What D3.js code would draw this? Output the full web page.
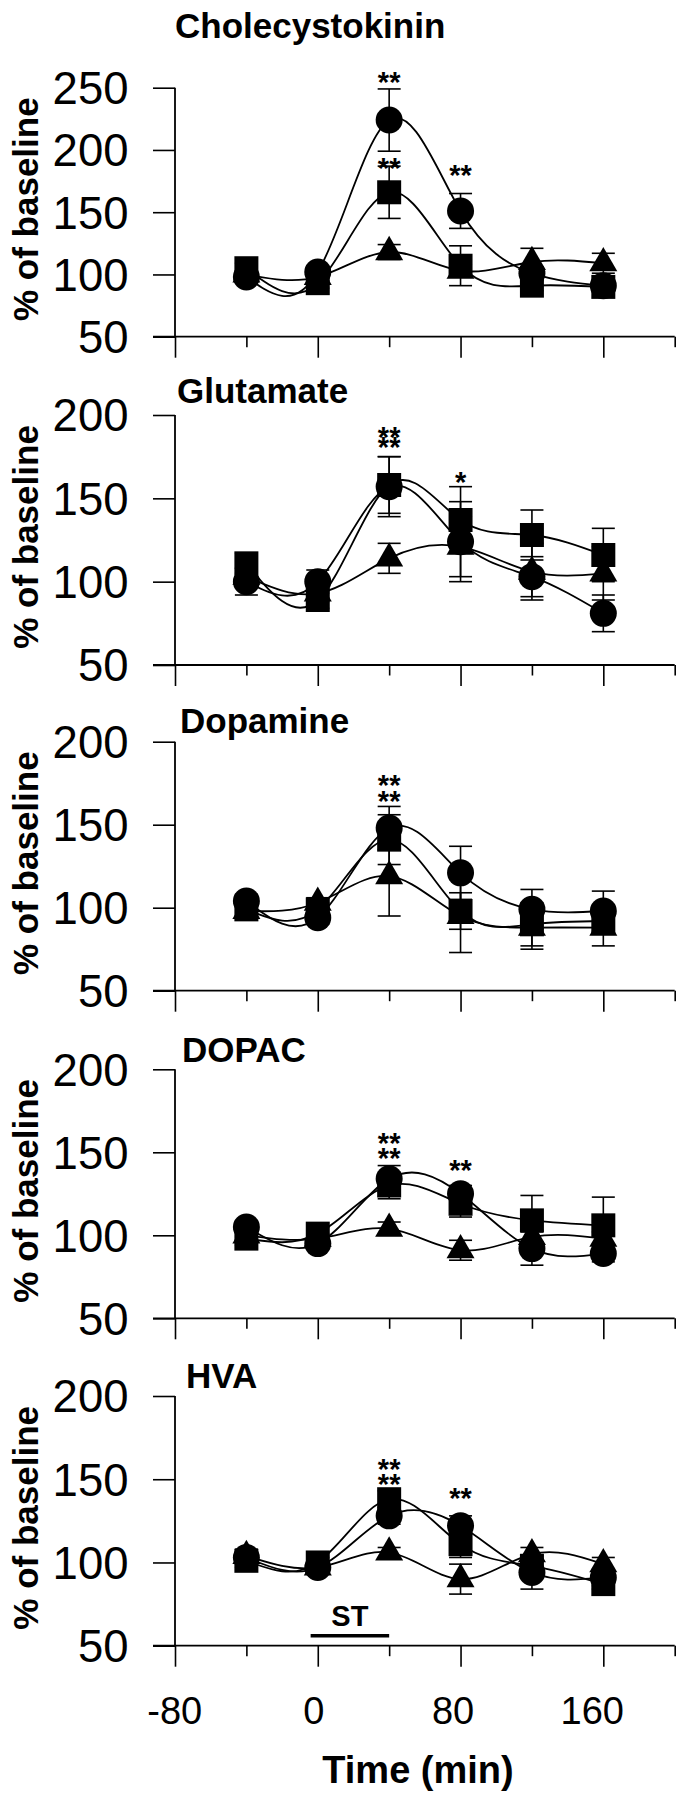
<!DOCTYPE html>
<html>
<head>
<meta charset="utf-8">
<script src="https://cdn.jsdelivr.net/npm/d3@7"></script>
<style>
  html, body { margin: 0; padding: 0; background: #fff; }
  svg { display: block; }
  text { font-family: "Liberation Sans", Arial, Helvetica, sans-serif; fill: #000; }
</style>
</head>
<body>
<svg id="chart" width="689" height="1800"></svg>
<script>
// ---------- data ----------
const times = [-40, 0, 40, 80, 120, 160];
const xTickValues = [-80, -40, 0, 40, 80, 120, 160, 200];
const xTickLabels = [-80, 0, 80, 160];
const panelTitles = ["Cholecystokinin", "Glutamate", "Dopamine", "DOPAC", "HVA"];
const yDomainMax = [250, 200, 200, 200, 200];
const yTicksCCK = [50, 100, 150, 200, 250];
const yTicksOther = [50, 100, 150, 200];
const yAxisTitle = "% of baseline";
const xAxisTitle = "Time (min)";
const stimLabel = "ST";
const stimRange = [-4, 40];

// Cholecystokinin
const cckCircle    = [98, 102, 224, 151, 101, 91];
const cckCircleSem = [3, 4, 25, 14, 5, 4];
const cckSquare    = [105, 93, 166, 107, 91, 90];
const cckSquareSem = [4, 4, 21, 16, 4, 4];
const cckTriangle    = [100, 98, 118, 103, 110, 109];
const cckTriangleSem = [3, 3, 6, 5, 11, 8];
// Glutamate
const gluCircle    = [100, 100, 157, 124, 103, 81];
const gluCircleSem = [8, 7, 18, 24, 12, 11];
const gluSquare    = [111, 89, 158, 137, 128, 116];
const gluSquareSem = [6, 5, 17, 20, 15, 16];
const gluTriangle    = [103, 93, 114, 121, 106, 105];
const gluTriangleSem = [5, 5, 9, 18, 17, 16];
// Dopamine
const daCircle    = [104, 94, 148, 121, 99, 98];
const daCircleSem = [4, 4, 13, 16, 12, 12];
const daSquare    = [99, 99, 141, 98, 90, 92];
const daSquareSem = [4, 4, 15, 11, 13, 8];
const daTriangle    = [98, 103, 119, 95, 88, 88];
const daTriangleSem = [3, 3, 24, 22, 13, 11];
// DOPAC
const dopacCircle    = [105, 95, 134, 125, 92, 89];
const dopacCircleSem = [3, 3, 8, 5, 10, 5];
const dopacSquare    = [98, 101, 130, 119, 109, 106];
const dopacSquareSem = [4, 4, 8, 8, 15, 17];
const dopacTriangle    = [100, 98, 104, 91, 99, 98];
const dopacTriangleSem = [3, 3, 4, 6, 4, 4];
// HVA
const hvaCircle    = [103, 97, 128, 122, 94, 91];
const hvaCircleSem = [3, 3, 5, 6, 10, 5];
const hvaSquare    = [101, 100, 138, 111, 98, 87];
const hvaSquareSem = [4, 3, 5, 8, 4, 3];
const hvaTriangle    = [104, 97, 106, 90, 105, 99];
const hvaTriangleSem = [4, 3, 3, 9, 4, 4];

// significance marks: [time, value at centre of first row, rows]
const cckStars   = [[40, 259.5, ["**"]], [40, 190, ["**"]], [80, 184.5, ["**"]]];
const gluStars   = [[40, 190.5, ["**", "**"]], [80, 163.5, ["*"]]];
const daStars    = [[40, 177.3, ["**", "**"]]];
const dopacStars = [[40, 159.4, ["**", "**"]], [80, 142.8, ["**"]]];
const hvaStars   = [[40, 159.9, ["**", "**"]], [80, 142.2, ["**"]]];
const starRowGap = [0, 10.5, 15.7, 15.6, 15];

// ---------- assemble panels ----------
const panels = [
  { series: [[cckTriangle, cckTriangleSem, "triangle"], [cckCircle, cckCircleSem, "circle"], [cckSquare, cckSquareSem, "square"]], stars: cckStars, ticks: yTicksCCK },
  { series: [[gluTriangle, gluTriangleSem, "triangle"], [gluCircle, gluCircleSem, "circle"], [gluSquare, gluSquareSem, "square"]], stars: gluStars, ticks: yTicksOther },
  { series: [[daTriangle, daTriangleSem, "triangle"], [daCircle, daCircleSem, "circle"], [daSquare, daSquareSem, "square"]], stars: daStars, ticks: yTicksOther },
  { series: [[dopacTriangle, dopacTriangleSem, "triangle"], [dopacCircle, dopacCircleSem, "circle"], [dopacSquare, dopacSquareSem, "square"]], stars: dopacStars, ticks: yTicksOther },
  { series: [[hvaTriangle, hvaTriangleSem, "triangle"], [hvaCircle, hvaCircleSem, "circle"], [hvaSquare, hvaSquareSem, "square"]], stars: hvaStars, ticks: yTicksOther }
];

// ---------- layout ----------
const axisLeft = 175, axisRight = 674.7;
const panelTop = [87.7, 415, 741.7, 1069.3, 1396];
const panelBottom = [336.7, 665, 990.7, 1318.3, 1645.7];
const titleX = [175, 177, 180, 182, 186];
const titleDY = [-49.5, -11.7, -8.4, -7.6, -7.7];

const svg = d3.select("#chart");
svg.append("rect").attr("width", 689).attr("height", 1800).attr("fill", "#fff");

const x = d3.scaleLinear().domain([-80, 200]).range([axisLeft, axisRight]);
// tick labels in the original sit on a slightly compressed spacing
const xLabel = d3.scaleLinear().domain([-80, 160]).range([174.2, 591.7]);
const symbolType = { circle: d3.symbolCircle, square: d3.symbolSquare, triangle: d3.symbolTriangle };
const symbolSize = { circle: Math.PI * 13.5 * 13.5, square: 24 * 24, triangle: 340 };
const line = d3.line().curve(d3.curveNatural);

panels.forEach((p, i) => {
  const y = d3.scaleLinear().domain([50, yDomainMax[i]]).range([panelBottom[i], panelTop[i]]);
  const g = svg.append("g");
  const isLast = i === panels.length - 1;

  // y axis
  const yAxis = d3.axisLeft(y).tickValues(p.ticks).tickSize(22).tickPadding(24.5).tickFormat(d => String(d));
  const yg = g.append("g").attr("transform", `translate(${axisLeft},0)`).call(yAxis);
  yg.select(".domain").remove();
  yg.selectAll(".tick line").attr("stroke", "#000").attr("stroke-width", 1.6);
  yg.selectAll(".tick text").attr("font-size", 45.5).attr("dy", "0.35em")
    .style("font-family", '"Liberation Sans", Arial, sans-serif');

  // x axis
  const xAxis = d3.axisBottom(x).tickValues(xTickValues).tickSize(21)
    .tickFormat(d => (isLast && xTickLabels.includes(d)) ? String(d) : "");
  const xg = g.append("g").attr("transform", `translate(0,${panelBottom[i]})`).call(xAxis);
  xg.select(".domain").remove();
  xg.selectAll(".tick line").attr("stroke", "#000").attr("stroke-width", 1.6)
    .attr("y2", d => (d % 80 === 0) ? 21 : 10.5);
  xg.selectAll(".tick text").attr("font-size", 38).attr("y", 51).attr("dy", "0.71em")
    .attr("x", d => xLabel(d) - x(d))
    .style("font-family", '"Liberation Sans", Arial, sans-serif');

  // axis lines
  g.append("line").attr("x1", axisLeft).attr("x2", axisLeft)
    .attr("y1", panelTop[i]).attr("y2", panelBottom[i])
    .attr("stroke", "#000").attr("stroke-width", 1.8);
  g.append("line").attr("x1", axisLeft - 22).attr("x2", axisRight)
    .attr("y1", panelBottom[i]).attr("y2", panelBottom[i])
    .attr("stroke", "#000").attr("stroke-width", 1.8);

  // y title
  g.append("text")
    .attr("transform", `translate(38,${(panelTop[i] + panelBottom[i]) / 2 - 3}) rotate(-90)`)
    .attr("text-anchor", "middle").attr("font-size", 35).attr("font-weight", "bold")
    .text(yAxisTitle);

  // panel title
  g.append("text").attr("x", titleX[i]).attr("y", panelTop[i] + titleDY[i])
    .attr("font-size", 35).attr("font-weight", "bold").text(panelTitles[i]);

  // curves
  p.series.forEach(([vals]) => {
    g.append("path")
      .attr("d", line(times.map((t, k) => [x(t), y(vals[k])])))
      .attr("fill", "none").attr("stroke", "#000").attr("stroke-width", 1.8);
  });

  // error bars
  p.series.forEach(([vals, sem]) => {
    times.forEach((t, k) => {
      const cx = x(t), y1 = y(vals[k] - sem[k]), y2 = y(vals[k] + sem[k]);
      g.append("line").attr("x1", cx).attr("x2", cx).attr("y1", y1).attr("y2", y2)
        .attr("stroke", "#000").attr("stroke-width", 1.6);
      [y1, y2].forEach(yy => g.append("line").attr("x1", cx - 11.5).attr("x2", cx + 11.5)
        .attr("y1", yy).attr("y2", yy).attr("stroke", "#000").attr("stroke-width", 1.6));
    });
  });

  // markers
  p.series.forEach(([vals, , shape]) => {
    g.selectAll(null).data(times.map((t, k) => [t, vals[k]])).enter()
      .append("path")
      .attr("transform", d => `translate(${x(d[0])},${y(d[1])})`)
      .attr("d", d3.symbol(symbolType[shape], symbolSize[shape]))
      .attr("fill", "#000");
  });

  // stars (stacked rows in one text element)
  p.stars.forEach(([t, v, rows]) => {
    const txt = g.append("text").attr("x", x(t)).attr("y", y(v)).attr("dy", "0.55em")
      .attr("text-anchor", "middle").attr("font-size", 29).attr("font-weight", "bold");
    rows.forEach((r, k) => {
      txt.append("tspan").attr("x", x(t)).attr("dy", k === 0 ? "0.55em" : starRowGap[i]).text(r);
    });
  });

  if (isLast) {
    // stimulation bar
    g.append("line").attr("x1", x(stimRange[0])).attr("x2", x(stimRange[1]))
      .attr("y1", y(56)).attr("y2", y(56)).attr("stroke", "#000").attr("stroke-width", 3.5);
    g.append("text").attr("x", x((stimRange[0] + stimRange[1]) / 2)).attr("y", y(61.9))
      .attr("text-anchor", "middle").attr("font-size", 29).attr("font-weight", "bold").text(stimLabel);
    // x title
    g.append("text").attr("x", 418).attr("y", 1782.7).attr("text-anchor", "middle")
      .attr("font-size", 38).attr("font-weight", "bold").text(xAxisTitle);
  }
});
</script>
</body>
</html>
